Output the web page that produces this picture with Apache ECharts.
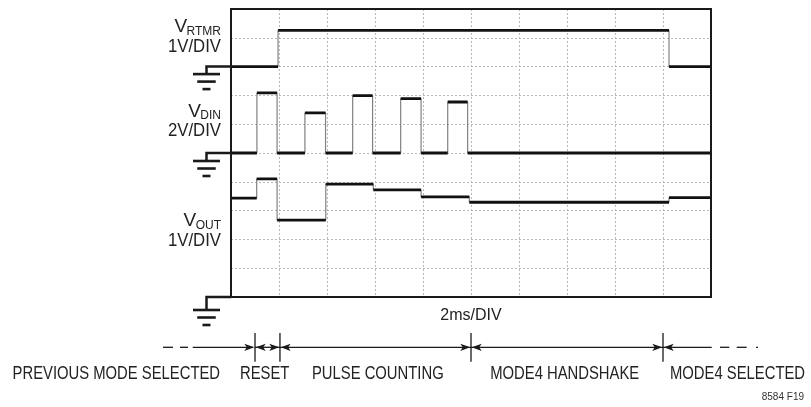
<!DOCTYPE html>
<html><head><meta charset="utf-8">
<script src="https://cdn.jsdelivr.net/npm/echarts@6/dist/echarts.min.js"></script>
<style>html,body{margin:0;padding:0;background:#fff}#c{width:811px;height:407px}</style>
</head><body><div id="c"></div>
<script>
// time axis (ms), 2 ms/div, 10 divisions
const timeTicks = [0, 2, 4, 6, 8, 10, 12, 14, 16, 18, 20];
// V_RTMR (1V/DIV, ground at division 8)
const rtmrEdges = [0, 1.96, 18.25, 20];
const rtmrLevels = [0, 1.26, 0];
// V_DIN (2V/DIV, ground at division 5)
const dinEdges = [0, 1.08, 1.92, 3.08, 3.94, 5.07, 5.9, 7.07, 7.92, 9.03, 9.86, 20];
const dinLevels = [0, 4.17, 0, 2.78, 0, 3.98, 0, 3.77, 0, 3.54, 0];
// V_OUT (1V/DIV, ground at division 0)
const voutEdges = [0, 1.07, 1.92, 3.95, 5.93, 7.92, 9.93, 18.25, 20];
const voutLevels = [3.43, 4.10, 2.67, 3.92, 3.72, 3.48, 3.29, 3.45];
// phase boundaries (ms) and names
const phaseBounds = [1.0, 2.04, 10, 18];
const phaseNames = ['PREVIOUS MODE SELECTED', 'RESET', 'PULSE COUNTING', 'MODE4 HANDSHAKE', 'MODE4 SELECTED'];

const FONT = '"Liberation Sans", Arial, sans-serif';
const traces = [
  {edges: rtmrEdges, levels: rtmrLevels, ground: 8, vPerDiv: 1},
  {edges: dinEdges, levels: dinLevels, ground: 5, vPerDiv: 2},
  {edges: voutEdges, levels: voutLevels, ground: 0, vPerDiv: 1}
];
function fullPath(tr) {
  const pts = [];
  for (let i = 0; i < tr.levels.length; i++) {
    const d = tr.ground + tr.levels[i] / tr.vPerDiv;
    pts.push([tr.edges[i], d], [tr.edges[i + 1], d]);
  }
  return pts;
}
function flatPath(tr) {
  const pts = [];
  for (let i = 0; i < tr.levels.length; i++) {
    const d = tr.ground + tr.levels[i] / tr.vPerDiv;
    pts.push([tr.edges[i], d], [tr.edges[i + 1], d], [tr.edges[i + 1], '-']);
  }
  return pts;
}
const series = [];
traces.forEach(tr => {
  series.push({type: 'line', data: fullPath(tr), symbol: 'none', silent: true,
    lineStyle: {color: '#808080', width: 1.2}, z: 2});
  series.push({type: 'line', data: flatPath(tr), symbol: 'none', silent: true, connectNulls: false,
    lineStyle: {color: '#111', width: 2.8}, z: 3});
});

const chart = echarts.init(document.getElementById('c'), null, {renderer: 'canvas'});
const splitStyle = {show: true, showMinLine: false, showMaxLine: false, lineStyle: {color: '#b8b8b8', width: 1, type: [2, 2]}};
chart.setOption({
  animation: false,
  backgroundColor: '#fff',
  grid: {left: 231, top: 9, width: 480, height: 288, show: false},
  xAxis: {type: 'value', min: timeTicks[0], max: timeTicks[timeTicks.length - 1], interval: 2,
    axisLine: {show: false}, axisTick: {show: false}, axisLabel: {show: false}, splitLine: splitStyle},
  yAxis: {type: 'value', min: 0, max: 10, interval: 1,
    axisLine: {show: false}, axisTick: {show: false}, axisLabel: {show: false}, splitLine: splitStyle},
  series: series
});

const px = (t, d) => chart.convertToPixel({gridIndex: 0}, [t, d]);
const ctx = document.createElement('canvas').getContext('2d');
function tw(text, size) { ctx.font = size + 'px ' + FONT; return ctx.measureText(text).width; }

const g = [];
const p0 = px(timeTicks[0], 10), p1 = px(timeTicks[timeTicks.length - 1], 0);
g.push({type: 'rect', shape: {x: p0[0], y: p0[1], width: p1[0] - p0[0], height: p1[1] - p0[1]},
  style: {fill: null, stroke: '#1a1a1a', lineWidth: 2}, z: 10});
const gridLeft = p0[0];
const stemX = gridLeft - 24.5;
// ground symbols
[{d: 8, stem: 7.5}, {d: 5, stem: 8}, {d: 0, stem: 13}].forEach(o => {
  const y = px(0, o.d)[1];
  g.push({type: 'polyline', shape: {points: [[gridLeft, y], [stemX, y], [stemX, y + o.stem]]},
    style: {stroke: '#1a1a1a', lineWidth: 2.5, fill: null}});
  const yb = y + o.stem;
  [[27, 0], [18.5, 7.5], [8, 15]].forEach(b => {
    g.push({type: 'line', shape: {x1: stemX - b[0] / 2, y1: yb + b[1], x2: stemX + b[0] / 2, y2: yb + b[1]},
      style: {stroke: '#1a1a1a', lineWidth: 2.6}});
  });
});
// channel labels
function chanLabel(sub, scale, baseV, rightX) {
  const subW = tw(sub, 12);
  g.push({type: 'text', x: rightX, y: baseV + 2.3 + 0.19 * 12,
    style: {text: sub, font: '12px ' + FONT, fill: '#222', align: 'right', verticalAlign: 'bottom'}});
  g.push({type: 'text', x: rightX - subW + 0.5, y: baseV + 0.19 * 19,
    style: {text: 'V', font: '19px ' + FONT, fill: '#222', align: 'right', verticalAlign: 'bottom'}});
  g.push({type: 'text', x: rightX, y: baseV + 19.8 + 0.19 * 18, scaleX: 0.93,
    style: {text: scale, font: '18px ' + FONT, fill: '#222', align: 'right', verticalAlign: 'bottom'}});
}
chanLabel('RTMR', '1V/DIV', 32.7, 221);
chanLabel('DIN', '2V/DIV', 117.3, 221);
chanLabel('OUT', '1V/DIV', 226.7, 221);
// 2ms/DIV
g.push({type: 'text', x: 471, y: 320.7 + 0.19 * 16, style: {text: '2ms/DIV', font: '16px ' + FONT, fill: '#222', align: 'center', verticalAlign: 'bottom'}});
// timeline
const yT = 347.3;
const bx = phaseBounds.map(t => px(t, 0)[0]);
const lineSt = {stroke: '#1a1a1a', lineWidth: 1.3};
function arrow(tipX, dir) {
  const L = 10, H = 3.6;
  g.push({type: 'polygon', shape: {points: [[tipX, yT], [tipX - dir * L, yT - H], [tipX - dir * (L - 2.5), yT], [tipX - dir * L, yT + H]]},
    style: {fill: '#1a1a1a'}});
}
bx.forEach(x => g.push({type: 'line', shape: {x1: x, y1: 333, x2: x, y2: 361.7}, style: lineSt}));
// left dashed part
[[163, 173], [180, 188]].forEach(s => g.push({type: 'line', shape: {x1: s[0], y1: yT, x2: s[1], y2: yT}, style: lineSt}));
g.push({type: 'line', shape: {x1: 192.7, y1: yT, x2: bx[0] - 2, y2: yT}, style: lineSt});
arrow(bx[0] - 0.7, 1);
// reset
g.push({type: 'line', shape: {x1: bx[0], y1: yT, x2: bx[1], y2: yT}, style: lineSt});
arrow(bx[0] + 0.7, -1); arrow(bx[1] - 0.7, 1);
// pulse counting, handshake
for (let i = 1; i < 3; i++) {
  g.push({type: 'line', shape: {x1: bx[i], y1: yT, x2: bx[i + 1], y2: yT}, style: lineSt});
  arrow(bx[i] + 0.7, -1); arrow(bx[i + 1] - 0.7, 1);
}
// right part
g.push({type: 'line', shape: {x1: bx[3], y1: yT, x2: 711.7, y2: yT}, style: lineSt});
arrow(bx[3] + 0.7, -1);
[[720, 729.3], [736.7, 746.7], [756, 758]].forEach(s => g.push({type: 'line', shape: {x1: s[0], y1: yT, x2: s[1], y2: yT}, style: lineSt}));
// phase labels
const labelX = [116.3, 264.7, 377.8, 564.7, 737.5];
phaseNames.forEach((n, i) => {
  g.push({type: 'text', x: labelX[i], y: 380 + 0.19 * 19, scaleX: 0.78,
    style: {text: n, font: '19px ' + FONT, fill: '#222', align: 'center', verticalAlign: 'bottom'}});
});
g.push({type: 'text', x: 804, y: 400.7 + 0.19 * 10, style: {text: '8584 F19', font: '10px ' + FONT, fill: '#333', align: 'right', verticalAlign: 'bottom'}});
chart.setOption({graphic: {elements: g}});
</script></body></html>
